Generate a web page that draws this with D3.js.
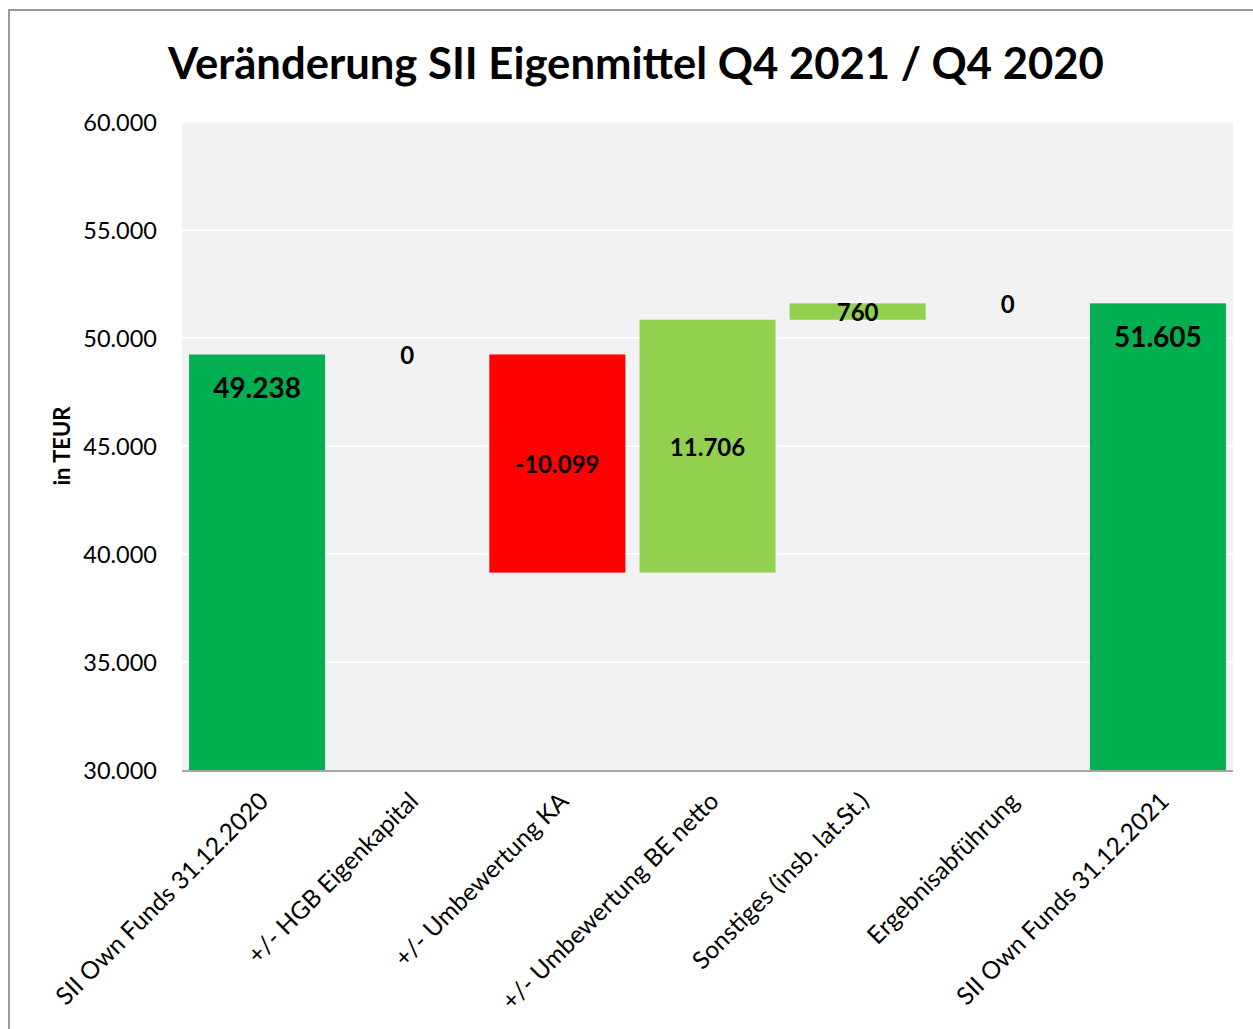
<!DOCTYPE html>
<html><head><meta charset="utf-8">
<script src="https://cdn.jsdelivr.net/npm/d3@7"></script>
<style>body{margin:0;background:#fff}svg{display:block}</style>
</head><body>
<svg id="c" width="1253" height="1029"></svg>
<script>
const categories = ["SII Own Funds 31.12.2020","+/- HGB Eigenkapital","+/- Umbewertung KA","+/- Umbewertung BE netto","Sonstiges (insb. lat.St.)","Ergebnisabführung","SII Own Funds 31.12.2021"];
const kinds = ["total","delta","delta","delta","delta","delta","total"];
const values = [49238, 0, -10099, 11706, 760, 0, 51605];
const yTicks = [30000,35000,40000,45000,50000,55000,60000];
const titleText = "Veränderung SII Eigenmittel Q4 2021 / Q4 2020";
const yTitle = "in TEUR";

const FONT = "Lato, 'Open Sans', sans-serif";
const svg = d3.select("#c");
const W = 1253, H = 1029;
const plot = {l:182, r:1233, t:122, b:770};

// chart border (only top/left visible; crop cuts off the rest)
svg.append("rect").attr("x",9).attr("y",10).attr("width",W+20).attr("height",H+20)
  .attr("fill","#fff").attr("stroke","#999999").attr("stroke-width",2);

const x = d3.scaleBand().domain(categories).range([plot.l, plot.r]).paddingInner(0.094).paddingOuter(0.047);
const y = d3.scaleLinear().domain([30000,60000]).range([plot.b, plot.t]);

svg.append("rect").attr("x",plot.l).attr("y",plot.t).attr("width",plot.r-plot.l).attr("height",plot.b-plot.t).attr("fill","#f2f2f2");

// gridlines
svg.append("g").selectAll("line").data(yTicks.filter(v=>v>30000)).join("line")
  .attr("x1",plot.l).attr("x2",plot.r).attr("y1",d=>y(d)).attr("y2",d=>y(d))
  .attr("stroke","#ffffff").attr("stroke-width",2);

// waterfall data
let run = 0;
const bars = categories.map((c,i)=>{
  let lo, hi;
  if (kinds[i]==="total"){ lo = 30000; hi = values[i]; run = values[i]; }
  else { const s = run, e = run + values[i]; lo = Math.min(s,e); hi = Math.max(s,e); run = e; }
  return {c, v:values[i], kind:kinds[i], lo, hi};
});
const color = d => d.kind==="total" ? "#00b050" : (d.v<0 ? "#ff0000" : "#92d050");

svg.append("g").selectAll("rect").data(bars.filter(d=>d.hi>d.lo)).join("rect")
  .attr("x",d=>x(d.c)).attr("width",x.bandwidth())
  .attr("y",d=>y(d.hi)).attr("height",d=>y(d.lo)-y(d.hi))
  .attr("fill",color);

const fmt = v => d3.format(",")(v).replace(/,/g,".").replace("\u2212","-");
// labels
svg.append("g").selectAll("text").data(bars).join("text")
  .attr("x",d=>x(d.c)+x.bandwidth()/2)
  .attr("y",d=> d.kind==="total" ? y(d.hi)+33 : (y(d.lo)+y(d.hi))/2)
  .attr("text-anchor","middle").attr("dominant-baseline","central")
  .attr("font-family",FONT).attr("font-weight","bold")
  .attr("font-size",d=>d.kind==="total"?28:24).attr("fill","#000")
  .text(d=>fmt(d.v));

// axis line
svg.append("line").attr("x1",plot.l).attr("x2",plot.r).attr("y1",plot.b+1).attr("y2",plot.b+1)
  .attr("stroke","#a6a6a6").attr("stroke-width",2);

// y ticks
svg.append("g").selectAll("text").data(yTicks).join("text")
  .attr("x",157).attr("y",d=>y(d)).attr("text-anchor","end").attr("dominant-baseline","central")
  .attr("font-family",FONT).attr("font-size",23.5).attr("fill","#000").text(d=>fmt(d));

// y title
svg.append("text").attr("transform",`translate(61,446) rotate(-90)`)
  .attr("text-anchor","middle").attr("dominant-baseline","central")
  .attr("font-family",FONT).attr("font-weight","bold").attr("font-size",22).text(yTitle);

// x labels
svg.append("g").selectAll("text").data(categories).join("text")
  .attr("transform",d=>`translate(${x(d)+x.bandwidth()/2+6},${plot.b+26}) rotate(-45)`)
  .attr("text-anchor","end").attr("dominant-baseline","central")
  .attr("font-family",FONT).attr("font-size",24.5).attr("fill","#000").text(d=>d);

// title
const t = svg.append("text").attr("x",636).attr("y",62).attr("text-anchor","middle").attr("dominant-baseline","central")
  .attr("font-family",FONT).attr("font-weight","bold").attr("font-size",44).attr("fill","#000").text(titleText);
const tw = t.node().getComputedTextLength();
t.attr("font-size", 44*936/tw);
</script>
</body></html>
